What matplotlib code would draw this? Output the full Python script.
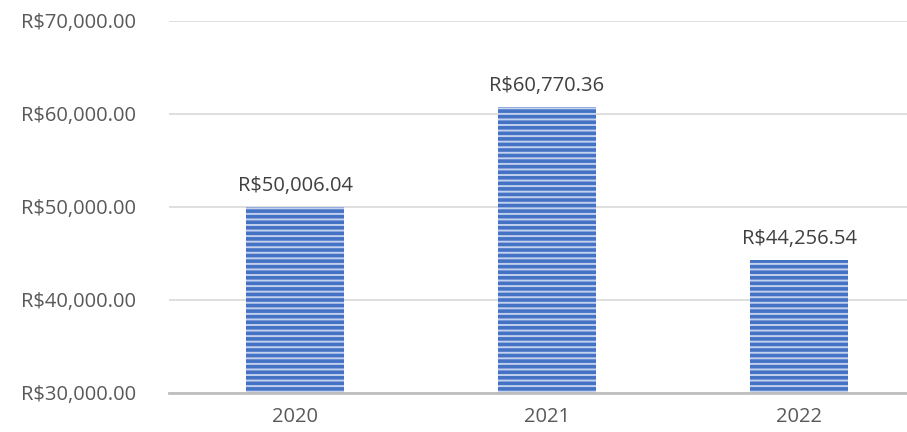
import numpy as np
import matplotlib.pyplot as plt
from matplotlib.ticker import FuncFormatter

years = ['2020', '2021', '2022']
values = [50006.04, 60770.36, 44256.54]

plt.rcParams['font.family'] = ['Open Sans', 'DejaVu Sans']
plt.rcParams['hatch.linewidth'] = 1.4

fig = plt.figure(figsize=[9.07, 4.32], dpi=100)
ax = fig.add_axes([169 / 907, 39 / 432, 738 / 907, 372 / 432])

X = np.arange(len(years))
# edgecolor is used as the stripe colour, edge itself has no width
ax.bar(X, values, width=0.385, color='#4472c4', hatch='---',
       edgecolor='#c3d1ef', linewidth=0, zorder=3)


def brl(v):
    return 'R$' + '{:,.2f}'.format(v)


for x, v in zip(X, values):
    ax.annotate(brl(v), (x, v), xytext=(0, 8), textcoords='offset points',
                ha='center', va='bottom', fontsize=14.5, color='#404040')

ax.set_ylim(30000, 70000)
ax.set_xlim(-0.5, 738 / 252 - 0.5)
ax.set_yticks([30000, 40000, 50000, 60000, 70000])
ax.yaxis.set_major_formatter(FuncFormatter(lambda v, p: brl(v)))
ax.set_xticks(X)
ax.set_xticklabels(years)
ax.grid(axis='y', color='#d9d9d9', linewidth=1.2, zorder=0)
for s in ['top', 'right', 'left']:
    ax.spines[s].set_visible(False)
ax.spines['bottom'].set_color('#bfbfbf')
ax.spines['bottom'].set_linewidth(2)
ax.spines['bottom'].set_zorder(4)
ax.tick_params(length=0, labelsize=14.5, labelcolor='#595959')
ax.tick_params(axis='y', pad=24)
ax.tick_params(axis='x', pad=10)

plt.savefig('out.png', dpi=100)
